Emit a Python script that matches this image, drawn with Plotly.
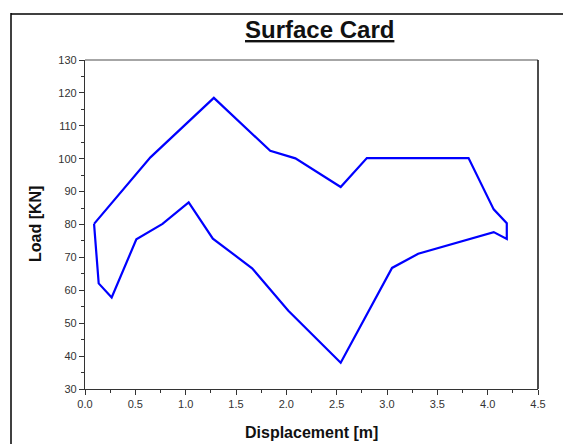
import plotly.graph_objects as go

# Surface card: displacement [m] vs load [KN], closed loop
displacement = [0.09, 0.65, 1.28, 1.84, 2.09, 2.54, 2.80, 3.81, 4.06, 4.19, 4.19, 4.06,
                3.31, 3.05, 2.54, 2.02, 1.66, 1.27, 1.03, 0.77, 0.51, 0.265, 0.136, 0.09]
load = [80.2, 100.4, 118.5, 102.4, 100.1, 91.4, 100.2, 100.2, 84.6, 80.4, 75.6, 77.7,
        71.1, 66.8, 38.0, 53.8, 66.7, 75.7, 86.7, 80.2, 75.5, 57.8, 62.1, 80.2]

title_text = "Surface Card"
x_title = "Displacement [m]"
y_title = "Load [KN]"

W, H = 563, 444
L, R, T, B = 85, 538, 60, 389
pw, ph = R - L, B - T

def px(x):
    return (x - L) / pw

def py(y):
    return (B - y) / ph

font = "Arial, Liberation Sans, sans-serif"

fig = go.Figure()
fig.add_trace(go.Scatter(x=displacement, y=load, mode="lines",
                         line=dict(color="#0000ff", width=2.2), showlegend=False,
                         hoverinfo="x+y"))

axis_common = dict(showgrid=False, zeroline=False, showline=True, linecolor="#333333",
                   linewidth=1.2, ticks="outside", ticklen=5, tickwidth=1, tickcolor="#333333",
                   tickfont=dict(family=font, size=11, color="#333333"),
                   minor=dict(ticks="outside", ticklen=3, tickcolor="#333333", tickwidth=1))

fig.update_xaxes(range=[0, 4.5], dtick=0.5, tick0=0, tickformat=".1f",
                 minor_dtick=0.25, **axis_common)
fig.update_yaxes(range=[30, 130], dtick=10, tick0=30, minor_dtick=5, **axis_common)

shapes = [
    # top border (grey) and right border (black)
    dict(type="line", xref="paper", yref="paper", x0=0, x1=1, y0=1, y1=1,
         line=dict(color="#888888", width=1.5)),
    dict(type="line", xref="paper", yref="paper", x0=1, x1=1, y0=0, y1=1,
         line=dict(color="#111111", width=1.5)),
    # outer frame lines
    dict(type="line", xref="paper", yref="paper", x0=px(11), x1=px(563), y0=py(14), y1=py(14),
         line=dict(color="#000000", width=1.5)),
    dict(type="line", xref="paper", yref="paper", x0=px(11), x1=px(11), y0=py(13), y1=py(444),
         line=dict(color="#000000", width=1.5)),
]

annotations = [
    dict(text="<b>" + x_title + "</b>", xref="paper", yref="paper", x=px(311), y=py(432),
         xanchor="center", yanchor="middle", showarrow=False,
         font=dict(family=font, size=16, color="#111111")),
    dict(text="<b>" + y_title + "</b>", xref="paper", yref="paper", x=px(35), y=py(224),
         xanchor="center", yanchor="middle", showarrow=False, textangle=-90,
         font=dict(family=font, size=16, color="#111111")),
    dict(text="<b><u>" + title_text + "</u></b>", xref="paper", yref="paper", x=px(319), y=py(29),
         xanchor="center", yanchor="middle", showarrow=False,
         font=dict(family=font, size=24, color="#111111")),
]

fig.update_layout(width=W, height=H, margin=dict(l=L, r=W - R, t=T, b=H - B, pad=0),
                  paper_bgcolor="white", plot_bgcolor="white",
                  shapes=shapes, annotations=annotations)

fig.write_html("out.html", config={"displayModeBar": False},
               post_script="document.body.style.margin='0';document.body.style.overflow='hidden';")
